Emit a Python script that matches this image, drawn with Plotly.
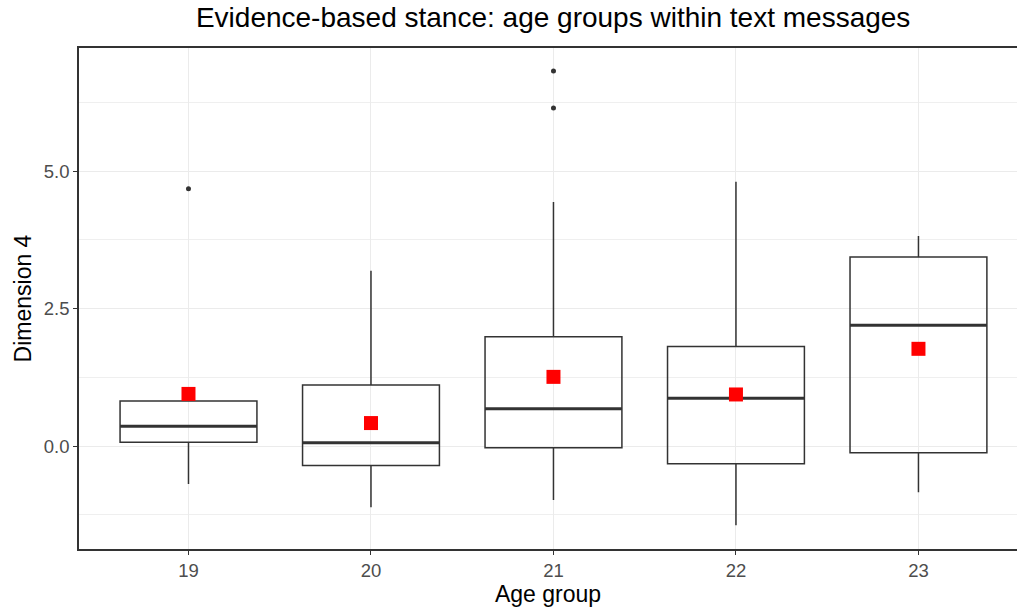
import plotly.graph_objects as go

# ---- data ----
age_groups = ["19", "20", "21", "22", "23"]
q1 = [0.07, -0.35, -0.03, -0.32, -0.12]
medians = [0.36, 0.06, 0.68, 0.87, 2.20]
q3 = [0.82, 1.11, 1.99, 1.81, 3.44]
lower_whisker = [-0.69, -1.11, -0.98, -1.44, -0.84]
upper_whisker = [0.82, 3.19, 4.44, 4.81, 3.82]
means = [0.95, 0.42, 1.26, 0.94, 1.77]
outlier_group = ["19", "21", "21"]
outlier_values = [4.68, 6.15, 6.82]

BOX_WIDTH = 0.75
pos = {g: i + 1 for i, g in enumerate(age_groups)}
xs = [pos[g] for g in age_groups]

fig = go.Figure()

fig.add_trace(go.Box(
    x=xs, q1=q1, median=medians, q3=q3,
    lowerfence=lower_whisker, upperfence=upper_whisker,
    width=BOX_WIDTH, whiskerwidth=0,
    fillcolor="rgba(255,255,255,0)",
    line=dict(color="#333333", width=1.5),
    boxpoints=False, hoverinfo="skip", showlegend=False,
))

# thicker median lines (ggplot style)
mx, my = [], []
for x, m in zip(xs, medians):
    mx += [x - BOX_WIDTH / 2, x + BOX_WIDTH / 2, None]
    my += [m, m, None]
fig.add_trace(go.Scatter(x=mx, y=my, mode="lines",
                         line=dict(color="#333333", width=3),
                         hoverinfo="skip", showlegend=False))

# outliers
fig.add_trace(go.Scatter(x=[pos[g] for g in outlier_group], y=outlier_values,
                         mode="markers",
                         marker=dict(color="#333333", size=5),
                         showlegend=False))

# means
fig.add_trace(go.Scatter(x=xs, y=means, mode="markers",
                         marker=dict(color="#FF0000", symbol="square", size=14,
                                     line=dict(width=0)),
                         showlegend=False))

font_family = "Liberation Sans, Arial, sans-serif"

fig.update_layout(
    width=1017, height=612,
    paper_bgcolor="white", plot_bgcolor="white",
    margin=dict(l=79, r=0, t=48, b=63, autoexpand=False),
    font=dict(family=font_family, color="black"),
    title=dict(text="Evidence-based stance: age groups within text messages",
               x=0.5055, xref="paper", xanchor="center",
               y=1, yref="container", yanchor="top", pad=dict(t=7),
               automargin=False,
               font=dict(size=28, color="black")),
    xaxis=dict(
        range=[0.4, 5.54], automargin=False,
        tickmode="array", tickvals=xs, ticktext=age_groups,
        showgrid=True, gridcolor="#EBEBEB", gridwidth=1,
        zeroline=False,
        showline=True, linecolor="#333333", linewidth=1.5, mirror=True,
        ticks="outside", ticklen=4, tickcolor="#333333", tickwidth=1.2,
        tickfont=dict(size=18.5, color="#4D4D4D"),
        title=dict(text="Age group", font=dict(size=23, color="black"), standoff=4),
    ),
    yaxis=dict(
        range=[-1.87, 7.24], automargin=False,
        tickmode="array", tickvals=[0, 2.5, 5.0], ticktext=["0.0", "2.5", "5.0"],
        showgrid=True, gridcolor="#EBEBEB", gridwidth=1.3,
        minor=dict(tickmode="array", tickvals=[-1.25, 1.25, 3.75, 6.25],
                   showgrid=True, gridcolor="#EFEFEF", gridwidth=1, ticks=""),
        zeroline=False,
        showline=True, linecolor="#333333", linewidth=1.5, mirror=False,
        ticks="outside", ticklen=4, tickcolor="#333333", tickwidth=1.2,
        tickfont=dict(size=18.5, color="#4D4D4D"),
        title=dict(text="Dimension 4", font=dict(size=23, color="black"), standoff=6),
    ),
)

fig.write_html(
    "out.html",
    config={"displayModeBar": False},
    post_script="document.body.style.margin='0';document.body.style.overflow='hidden';",
)
